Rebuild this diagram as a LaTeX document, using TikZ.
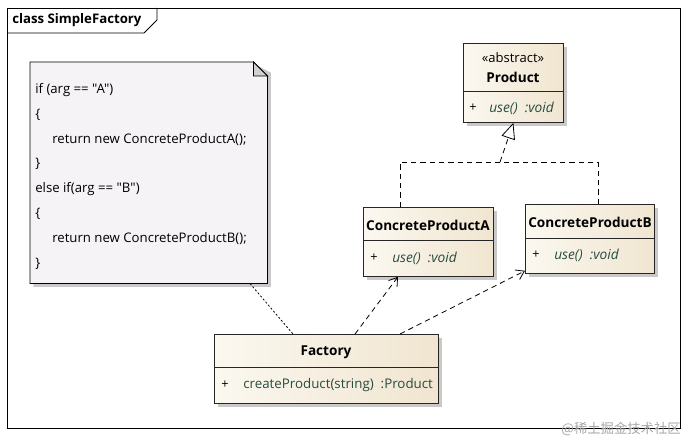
\documentclass[tikz,border=0pt]{standalone}
\usepackage{fontspec}
\setmainfont{Open Sans}
\newfontfamily\notefont{Open Sans}
\newfontfamily\cjk{Noto Sans CJK SC}
\usetikzlibrary{arrows.meta,shadows,calc}
\definecolor{memb}{RGB}{38,76,64}
\definecolor{cl}{RGB}{251,248,240}
\definecolor{cr}{RGB}{240,229,208}
\definecolor{notefill}{RGB}{246,243,246}
\tikzset{
  classbox/.style={draw=black!85, line width=0.6pt, left color=cl, right color=cr,
    drop shadow={shadow xshift=2.5pt, shadow yshift=-2.5pt, fill=black!30, opacity=0.7},
    anchor=north west, inner sep=0pt},
  cname/.style={font=\bfseries\fontsize{10.2}{12}\selectfont},
  plain/.style={font=\fontsize{9.5}{11}\selectfont, anchor=west, inner sep=0pt},
  member/.style={font=\itshape\fontsize{10.3}{12}\selectfont, text=memb, anchor=west, inner sep=0pt},
  divider/.style={draw=black!85, line width=0.5pt},
  gen/.style={draw=black, line width=0.6pt, dash pattern=on 4pt off 3pt},
  dep/.style={draw=black, line width=0.6pt, dash pattern=on 4pt off 3pt, -{Straight Barb[length=6pt,width=8pt]}},
  notelink/.style={draw=black, line width=0.6pt, dash pattern=on 1.5pt off 1.5pt},
  notetext/.style={font=\notefont\fontsize{9.9}{12}\selectfont, anchor=west, inner sep=0pt},
}
\begin{document}
\begin{tikzpicture}[x=0.75pt,y=-0.75pt]
\useasboundingbox (0,0) rectangle (690,442);
% frame
\node[draw=none, inner sep=0pt, anchor=north west, minimum width=504.75pt, minimum height=315pt] (frame) at (7,8) {};
\draw[line width=0.6pt] (frame.north west) rectangle (frame.south east);
\draw[line width=0.6pt] (7,33) -- (144,33) -- (157,20) -- (157,8);
\node[font=\bfseries\fontsize{9.9}{11}\selectfont, anchor=west, inner sep=0pt] (title) at (12,20) {class SimpleFactory};

% Product
\node[classbox, minimum width=75pt, minimum height=59.25pt] (P) at (463,43) {};
\draw[divider] (463,91) -- (563,91);
\node[font=\fontsize{9.8}{11}\selectfont] (Pst) at (513,58) {«abstract»};
\node[cname] (Pn) at (513,77) {Product};
\node[plain] (Pp) at (469,108) {+};
\node[member] (Pu) at (489,108) {use()\ \ :void};

% ConcreteProductA
\node[classbox, minimum width=97.5pt, minimum height=51.75pt] (A) at (363,207) {};
\draw[divider] (363,240) -- (493,240);
\node[cname] (An) at (428,225) {ConcreteProductA};
\node[plain] (Ap) at (370,258) {+};
\node[member] (Au) at (392,258) {use()\ \ :void};

% ConcreteProductB
\node[classbox, minimum width=96.75pt, minimum height=51.75pt] (B) at (525,204) {};
\draw[divider] (525,238) -- (654,238);
\node[cname] (Bn) at (590,222) {ConcreteProductB};
\node[plain] (Bp) at (532,255) {+};
\node[member] (Bu) at (554,255) {use()\ \ :void};

% Factory
\node[classbox, minimum width=168pt, minimum height=51.75pt] (F) at (214,334) {};
\draw[divider] (214,367) -- (438,367);
\node[cname] (Fn) at (326,352) {Factory};
\node[plain] (Fp) at (221,385) {+};
\node[font=\fontsize{10}{12}\selectfont, text=memb, anchor=west, inner sep=0pt] (Fc) at (243,385) {createProduct(string)\ \ :Product};

% Note
\node[draw=none, inner sep=0pt, anchor=north west, minimum width=177.75pt, minimum height=165.75pt] (note) at (30,62) {};
\fill[black!30, opacity=0.7] ([xshift=2.5pt,yshift=-2.5pt]note.north west) -- ([xshift=-8pt,yshift=-2.5pt]note.north east) -- ([xshift=2.5pt,yshift=-8pt]note.north east) -- ([xshift=2.5pt,yshift=-2.5pt]note.south east) -- ([xshift=2.5pt,yshift=-2.5pt]note.south west) -- cycle;
\draw[line width=0.6pt, fill=notefill] (note.north west) -- ([xshift=-10.5pt]note.north east) -- ([yshift=-10.5pt]note.north east) -- (note.south east) -- (note.south west) -- cycle;
\draw[line width=0.6pt, fill=black!18] ([xshift=-10.5pt]note.north east) -- ([xshift=-10.5pt,yshift=-10.5pt]note.north east) -- ([yshift=-10.5pt]note.north east) -- cycle;
\node[notetext] (n1) at (35,90) {if (arg == "A")};
\node[notetext] (n2) at (35,115) {\{};
\node[notetext] (n3) at (52,140) {return new ConcreteProductA();};
\node[notetext] (n4) at (35,164) {\}};
\node[notetext] (n5) at (35,189) {else if(arg == "B")};
\node[notetext] (n6) at (35,214) {\{};
\node[notetext] (n7) at (52,239) {return new ConcreteProductB();};
\node[notetext] (n8) at (35,264) {\}};

% generalization
\coordinate (jn) at (500,162);
\draw[gen] ([xshift=27.75pt]A.north west) |- (jn);
\draw[gen] ([xshift=54.75pt]B.north west) |- (jn);
\draw[gen, -{Triangle[open, length=12pt, width=10.5pt, fill=white]}] (jn) -- (P.south);

% dependencies
\draw[dep] ([xshift=105.75pt]F.north west) -- ([xshift=26.25pt]A.south west);
\draw[dep] ([xshift=139.5pt]F.north west) -- ([yshift=2.25pt]B.south west);
\draw[notelink] ([xshift=165pt]note.south west) -- ([xshift=59.25pt]F.north west);

% watermark
\node[font=\cjk\fontsize{10}{12}\selectfont, text=black!35, anchor=east, inner sep=0pt] (wm) at (681,429) {@稀土掘金技术社区};
\end{tikzpicture}
\end{document}
